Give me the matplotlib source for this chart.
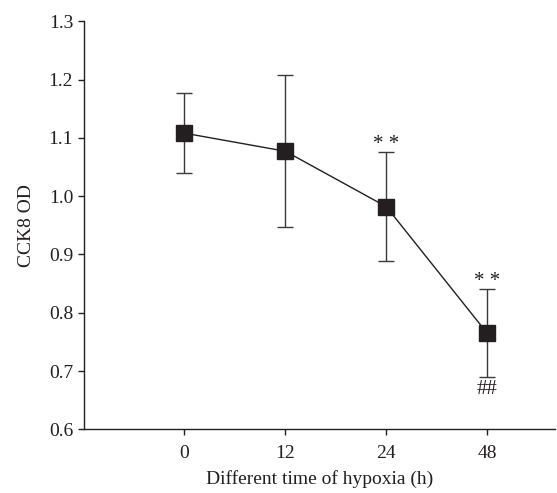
import numpy as np
import matplotlib.pyplot as plt

plt.rcParams['font.family'] = ['Liberation Serif', 'DejaVu Serif']

# data
hours = ['0', '12', '24', '48']
od_mean = [1.108, 1.077, 0.982, 0.765]
od_err = [0.069, 0.130, 0.093, 0.075]
marks_top = ['', '', '* *', '* *']
marks_bottom = ['', '', '', '##']

ink = '#231f20'
x = np.arange(len(hours))

fig = plt.figure(figsize=(5.57, 4.93), dpi=100)
ax = fig.add_axes([0.150, 0.129, 0.846, 0.828])

ax.errorbar(x, od_mean, yerr=od_err, color=ink, lw=1.0, elinewidth=1.0,
            ecolor='#3a3a3a', capsize=5.8, capthick=1.0, marker='s',
            markersize=11, markerfacecolor=ink, markeredgecolor=ink)

for i in range(len(hours)):
    if marks_top[i]:
        ax.text(x[i], od_mean[i] + od_err[i] - 0.002, marks_top[i],
                ha='center', va='bottom', fontsize=15, color=ink)
    if marks_bottom[i]:
        ax.text(x[i], od_mean[i] - od_err[i] - 0.006, marks_bottom[i],
                ha='center', va='top', fontsize=15, color=ink)

ax.set_xlim(-1, 3.67)
ax.set_ylim(0.6, 1.3)
ax.set_xticks(x)
ax.set_xticklabels(hours)
ax.set_yticks(np.arange(0.6, 1.31, 0.1))
ax.yaxis.set_major_formatter(plt.FormatStrFormatter('%.1f'))

for s in ['top', 'right']:
    ax.spines[s].set_visible(False)
for s in ['left', 'bottom']:
    ax.spines[s].set_linewidth(1.0)
    ax.spines[s].set_color(ink)
ax.tick_params(direction='out', length=4, width=1.0, colors=ink,
               labelsize=14, labelcolor=ink)
ax.tick_params(axis='x', pad=7)

ax.set_xlabel('Different time of hypoxia (h)', fontsize=14, color=ink, labelpad=6)
ax.set_ylabel('CCK8 OD', fontsize=14, color=ink, labelpad=10)

fig.savefig('out.png', dpi=100)
